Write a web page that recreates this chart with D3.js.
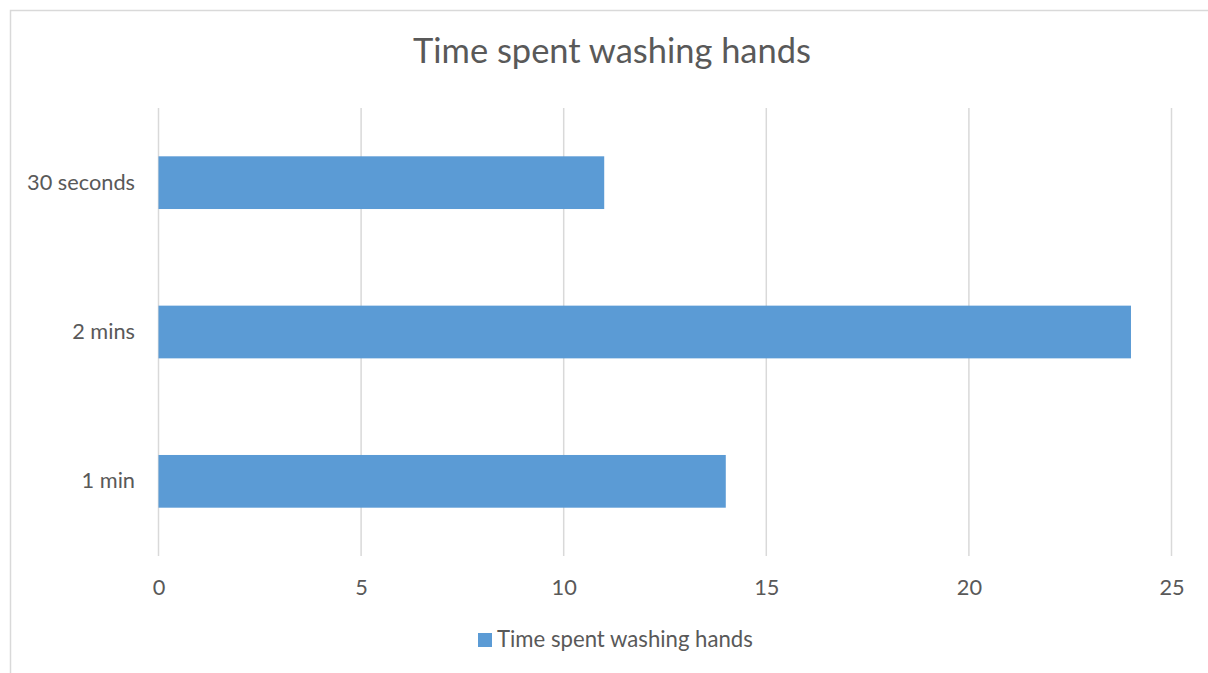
<!DOCTYPE html>
<html>
<head>
<meta charset="utf-8">
<script src="https://cdn.jsdelivr.net/npm/d3@7/dist/d3.min.js"></script>
<style>
  html, body { margin: 0; padding: 0; background: #fff; }
  svg { display: block; }
  text { font-family: Lato, "Open Sans", sans-serif; fill: #595959; }
</style>
</head>
<body>
<svg id="chart" width="1208" height="673"></svg>
<script>
// Chart data
const categories = ["30 seconds", "2 mins", "1 min"];
const values = [11, 24, 14];
const tickValues = [0, 5, 10, 15, 20, 25];
const chartTitle = "Time spent washing hands";
const seriesName = "Time spent washing hands";

const W = 1208, H = 673;
const svg = d3.select("#chart");

// Chart area frame (left and top edges visible)
svg.append("path")
  .attr("d", `M${W},10.5 H10.5 V${H}`)
  .attr("fill", "none")
  .attr("stroke", "#d9d9d9")
  .attr("stroke-width", 1.5);

const plot = { left: 158.5, right: 1171.5, top: 108, bottom: 556 };

const x = d3.scaleLinear().domain([0, 25]).range([plot.left, plot.right]);
const y = d3.scaleBand().domain(categories).range([plot.top, plot.bottom])
  .paddingInner(0.647).paddingOuter(0.3235);

// Fit a text element's font size so it spans a given width
function fitWidth(sel, target) {
  const node = sel.node();
  const w = node.getComputedTextLength();
  const fs = parseFloat(sel.attr("font-size"));
  sel.attr("font-size", fs * target / w);
  return fs * target / w;
}

// Title
const title = svg.append("text")
  .attr("x", (plot.left + plot.right) / 2 + 0)
  .attr("y", 63)
  .attr("text-anchor", "middle")
  .attr("font-size", 30)
  .text(chartTitle);
fitWidth(title, 398);
title.attr("x", 612);

// Gridlines
svg.append("g").selectAll("line")
  .data(tickValues)
  .join("line")
  .attr("x1", d => x(d)).attr("x2", d => x(d))
  .attr("y1", plot.top).attr("y2", plot.bottom)
  .attr("stroke", "#d9d9d9")
  .attr("stroke-width", 1.5);

// Bars
svg.append("g").selectAll("rect")
  .data(categories.map((c, i) => ({ c, v: values[i] })))
  .join("rect")
  .attr("x", x(0))
  .attr("y", d => y(d.c))
  .attr("width", d => x(d.v) - x(0))
  .attr("height", y.bandwidth())
  .attr("fill", "#5b9bd5");

// Category axis labels
const catAxis = d3.axisLeft(y).tickSize(0).tickPadding(0);
const gy = svg.append("g").attr("transform", `translate(135,0)`).call(catAxis);
gy.select(".domain").remove();
gy.selectAll("text").attr("font-size", 18).attr("fill", "#595959")
  .attr("font-family", "Lato, 'Open Sans', sans-serif");
const labelSize = fitWidth(gy.selectAll("text").filter(d => d === "30 seconds"), 108);
gy.selectAll("text").attr("font-size", labelSize);

// Value axis labels
const valAxis = d3.axisBottom(x).tickValues(tickValues).tickSize(0).tickPadding(0);
const gx = svg.append("g").attr("transform", `translate(0,580)`).call(valAxis);
gx.select(".domain").remove();
gx.selectAll("text").attr("font-size", labelSize).attr("fill", "#595959")
  .attr("font-family", "Lato, 'Open Sans', sans-serif")
  .attr("dy", "0.71em");

// Legend
const legend = svg.append("g");
legend.append("rect")
  .attr("x", 478).attr("y", 633).attr("width", 14).attr("height", 14)
  .attr("fill", "#5b9bd5");
const legText = legend.append("text")
  .attr("x", 497).attr("y", 647)
  .attr("font-size", 18)
  .text(seriesName);
fitWidth(legText, 256);
</script>
</body>
</html>
